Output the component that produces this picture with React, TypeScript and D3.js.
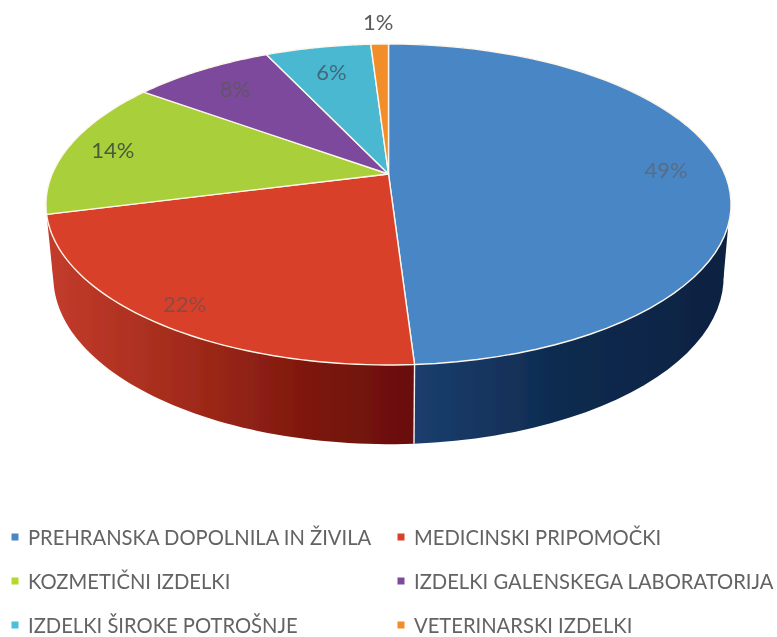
import React from "react";
import * as d3 from "d3";

const categories = [
  "PREHRANSKA DOPOLNILA IN ŽIVILA",
  "MEDICINSKI PRIPOMOČKI",
  "KOZMETIČNI IZDELKI",
  "IZDELKI GALENSKEGA LABORATORIJA",
  "IZDELKI ŠIROKE POTROŠNJE",
  "VETERINARSKI IZDELKI",
];
const values = [49, 22, 14, 8, 6, 1];
const topColors = ["#4a86c6", "#d9412b", "#a9cf3a", "#7c4a9c", "#4bb8d2", "#f28e2b"];
const legendColors = ["#4a86c6", "#d9412b", "#b4d92f", "#7c4a9c", "#4bc0d8", "#f28e2b"];
const labelColors = ["#586c84", "#8c4a42", "#4a5a3c", "#625468", "#3f6a7c", "#5a5a5a"];
const labelRadii = [0.83, 0.89, 0.86, 0.8, 0.78, 1.21];

const W = 777, H = 637;
const P = 0.19;
const topDisc = { cx: 388.5, cy: 174, rx: 336.3, ry: 154.7 };
const baseDisc = { cx: 388.5, cy: 245.4, rx: 329, ry: 161 };
type Disc = typeof topDisc;
const deg = (d: number) => (d * Math.PI) / 180;

// Perspective projection of a point on the unit disc (angle clockwise from 12 o'clock)
const project = (d: Disc, a: number, r = 1): [number, number] => {
  const u = r * Math.sin(a), v = r * Math.cos(a), w = 1 + P * v;
  return [d.cx + (d.rx * u) / w, d.cy - (d.ry * v) / w];
};
const rimAngles = (a0: number, a1: number) => d3.range(0, 61).map((i) => a0 + ((a1 - a0) * i) / 60);
const line = d3.line();

const arcs = d3.pie<number>().sort(null)(values);
const col2 = d3.scalePoint<number>().domain([0, 1]).range([15, 401]);
const rows = d3.scalePoint<number>().domain([0, 1, 2]).range([537, 625]);

export default function App() {
  const rightPatch = [project(topDisc, deg(108)), project(baseDisc, deg(101)), project(baseDisc, deg(135))];
  const leftPatch = [project(topDisc, deg(252)), project(baseDisc, deg(259)), project(baseDisc, deg(225))];
  return (
    <svg width={W} height={H} viewBox={`0 0 ${W} ${H}`} style={{ position: "absolute", left: 0, top: 0, background: "#fff" }}>
      <defs>
        <linearGradient id="wallBlue" gradientUnits="userSpaceOnUse" x1={413} y1={0} x2={731} y2={0}>
          <stop offset="0" stopColor="#1b3f6e" />
          <stop offset="0.45" stopColor="#0f2b50" />
          <stop offset="1" stopColor="#0a2240" />
        </linearGradient>
        <linearGradient id="wallRed" gradientUnits="userSpaceOnUse" x1={46} y1={0} x2={413} y2={0}>
          <stop offset="0" stopColor="#c43c2c" />
          <stop offset="0.4" stopColor="#a02a1a" />
          <stop offset="0.75" stopColor="#7a150c" />
          <stop offset="1" stopColor="#6a0f08" />
        </linearGradient>
        <filter id="soft" x="-5%" y="-5%" width="110%" height="110%">
          <feGaussianBlur stdDeviation="0.45" />
        </filter>
      </defs>
      <g filter="url(#soft)">
        <path d={line(rightPatch)! + "Z"} fill="url(#wallBlue)" />
        <path d={line(leftPatch)! + "Z"} fill="url(#wallRed)" />
        {arcs.slice(0, 2).map((s, i) => {
          const as = rimAngles(s.startAngle, s.endAngle);
          const pts = [...as.map((a) => project(topDisc, a)), ...as.slice().reverse().map((a) => project(baseDisc, a))];
          return <path key={i} d={line(pts)! + "Z"} fill={i === 0 ? "url(#wallBlue)" : "url(#wallRed)"} />;
        })}
        <path d={line([project(topDisc, arcs[0].endAngle), project(baseDisc, arcs[0].endAngle)])!} stroke="#f4f4f4" strokeWidth={1.4} fill="none" />
        {arcs.map((s, i) => {
          const pts = [[topDisc.cx, topDisc.cy] as [number, number], ...rimAngles(s.startAngle, s.endAngle).map((a) => project(topDisc, a))];
          return <path key={i} d={line(pts)! + "Z"} fill={topColors[i]} stroke="#fdf6ea" strokeWidth={1.4} strokeLinejoin="round" />;
        })}
        {arcs.map((s, i) => {
          const [x, y] = project(topDisc, (s.startAngle + s.endAngle) / 2, labelRadii[i]);
          return (
            <text key={i} x={x} y={y} textAnchor="middle" dominantBaseline="central"
              fontFamily="Lato, 'Open Sans', sans-serif" fontSize={22} fill={labelColors[i]}>
              {values[i]}%
            </text>
          );
        })}
        {categories.map((c, i) => {
          const x = col2(i % 2)!, y = rows(Math.floor(i / 2))!;
          return (
            <g key={c}>
              <rect x={x - 3.5} y={y - 3.5} width={7} height={7} fill={legendColors[i]} />
              <text x={x + 13} y={y} dominantBaseline="central" fontFamily="Lato, 'Open Sans', sans-serif"
                fontSize={20.2} fill="#636363">
                {c}
              </text>
            </g>
          );
        })}
      </g>
    </svg>
  );
}
